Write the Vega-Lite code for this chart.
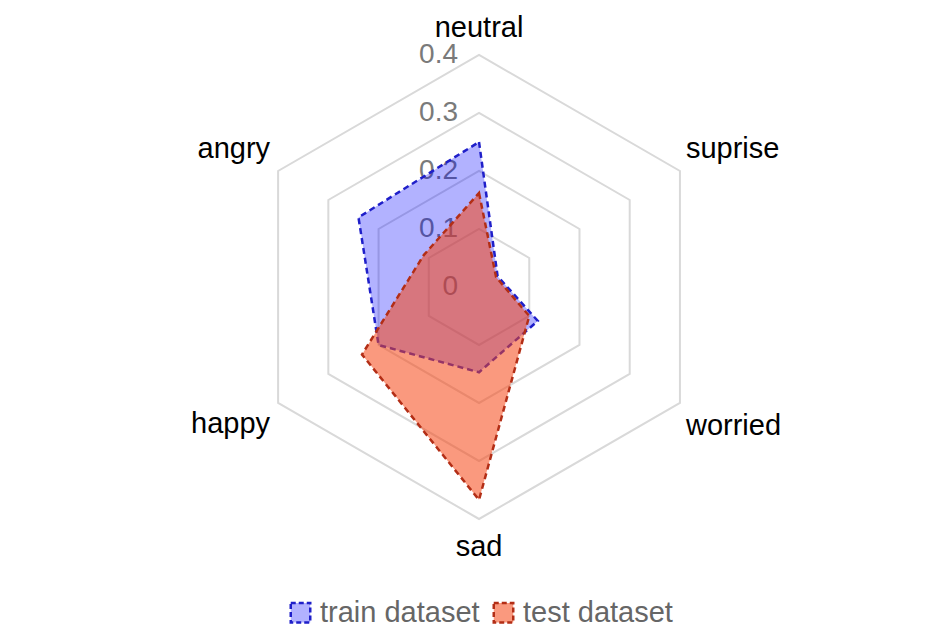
{
  "$schema": "https://vega.github.io/schema/vega-lite/v6.json",
  "width": 945,
  "height": 634,
  "autosize": "none",
  "padding": 0,
  "background": "white",
  "config": {"view": {"stroke": null}, "font": "Liberation Sans"},
  "datasets": {
    "axes": [
      {"emotion": "neutral", "idx": 0},
      {"emotion": "suprise", "idx": 1},
      {"emotion": "worried", "idx": 2},
      {"emotion": "sad", "idx": 3},
      {"emotion": "happy", "idx": 4},
      {"emotion": "angry", "idx": 5}
    ],
    "grid": [
      {"emotion": "neutral", "levels": [0.1, 0.2, 0.3, 0.4]},
      {"emotion": "suprise", "levels": [0.1, 0.2, 0.3, 0.4]},
      {"emotion": "worried", "levels": [0.1, 0.2, 0.3, 0.4]},
      {"emotion": "sad", "levels": [0.1, 0.2, 0.3, 0.4]},
      {"emotion": "happy", "levels": [0.1, 0.2, 0.3, 0.4]},
      {"emotion": "angry", "levels": [0.1, 0.2, 0.3, 0.4]}
    ],
    "ticks": [
      {"tick": "0", "value": 0},
      {"tick": "0.1", "value": 0.1},
      {"tick": "0.2", "value": 0.2},
      {"tick": "0.3", "value": 0.3},
      {"tick": "0.4", "value": 0.4}
    ],
    "scores": [
      {"dataset": "train dataset", "emotion": "neutral", "value": 0.25},
      {"dataset": "train dataset", "emotion": "suprise", "value": 0.037},
      {"dataset": "train dataset", "emotion": "worried", "value": 0.117},
      {"dataset": "train dataset", "emotion": "sad", "value": 0.147},
      {"dataset": "train dataset", "emotion": "happy", "value": 0.2},
      {"dataset": "train dataset", "emotion": "angry", "value": 0.24},
      {"dataset": "test dataset", "emotion": "neutral", "value": 0.162},
      {"dataset": "test dataset", "emotion": "suprise", "value": 0.034},
      {"dataset": "test dataset", "emotion": "worried", "value": 0.1},
      {"dataset": "test dataset", "emotion": "sad", "value": 0.367},
      {"dataset": "test dataset", "emotion": "happy", "value": 0.233},
      {"dataset": "test dataset", "emotion": "angry", "value": 0.11}
    ]
  },
  "encoding": {
    "x": {"field": "x", "type": "quantitative", "scale": {"domain": [-0.8259, 0.8034], "nice": false, "zero": false}, "axis": null},
    "y": {"field": "y", "type": "quantitative", "scale": {"domain": [-0.5983, 0.4948], "nice": false, "zero": false}, "axis": null}
  },
  "layer": [
    {
      "data": {"name": "grid"},
      "transform": [
        {"flatten": ["levels"], "as": ["value"]},
        {"lookup": "emotion", "from": {"data": {"name": "axes"}, "key": "emotion", "fields": ["idx"]}},
        {"calculate": "datum.idx * PI / 3", "as": "a"},
        {"calculate": "datum.value * sin(datum.a)", "as": "x"},
        {"calculate": "datum.value * cos(datum.a)", "as": "y"}
      ],
      "mark": {"type": "line", "interpolate": "linear-closed", "stroke": "#d9d9d9", "strokeWidth": 2},
      "encoding": {
        "detail": {"field": "value", "type": "nominal"},
        "order": {"field": "idx", "type": "quantitative"}
      }
    },
    {
      "data": {"name": "ticks"},
      "transform": [
        {"calculate": "0", "as": "x"},
        {"calculate": "datum.value", "as": "y"}
      ],
      "mark": {"type": "text", "align": "right", "baseline": "middle", "dx": -21, "fontSize": 28, "fill": "#7a7a7a"},
      "encoding": {
        "text": {"field": "tick", "type": "nominal"}
      }
    },
    {
      "data": {"name": "scores"},
      "transform": [
        {"lookup": "emotion", "from": {"data": {"name": "axes"}, "key": "emotion", "fields": ["idx"]}},
        {"calculate": "datum.idx * PI / 3", "as": "a"},
        {"calculate": "datum.value * sin(datum.a)", "as": "x"},
        {"calculate": "datum.value * cos(datum.a)", "as": "y"}
      ],
      "mark": {"type": "line", "interpolate": "linear-closed", "strokeWidth": 2.5, "strokeDash": [6, 4]},
      "encoding": {
        "detail": {"field": "dataset", "type": "nominal"},
        "order": {"field": "idx", "type": "quantitative"},
        "stroke": {"field": "dataset", "type": "nominal", "scale": {"domain": ["train dataset", "test dataset"], "range": ["#1f1fc9", "#b32e16"]}, "legend": {"orient": "none", "legendX": 286, "legendY": 598, "direction": "horizontal", "title": null, "symbolType": "square", "symbolSize": 380, "symbolStrokeWidth": 2.5, "symbolDash": [5, 3], "labelFontSize": 29, "labelColor": "#666666", "labelOffset": 5, "columnPadding": 8}},
        "fill": {"field": "dataset", "type": "nominal", "scale": {"domain": ["train dataset", "test dataset"], "range": ["rgba(0,0,255,0.3)", "rgba(245,70,20,0.55)"]}, "legend": {"orient": "none", "legendX": 286, "legendY": 598, "direction": "horizontal", "title": null, "symbolType": "square", "symbolSize": 380, "symbolStrokeWidth": 2.5, "symbolDash": [5, 3], "labelFontSize": 29, "labelColor": "#666666", "labelOffset": 5, "columnPadding": 8}}
      }
    },
    {
      "data": {"name": "axes"},
      "transform": [
        {"filter": "datum.emotion === 'neutral'"},
        {"calculate": "datum.idx * PI / 3", "as": "a"},
        {"calculate": "0.4 * sin(datum.a)", "as": "x"},
        {"calculate": "0.4 * cos(datum.a)", "as": "y"}
      ],
      "mark": {"type": "text", "align": "center", "baseline": "alphabetic", "dy": -18, "fontSize": 29, "fill": "#000000"},
      "encoding": {"text": {"field": "emotion", "type": "nominal"}}
    },
    {
      "data": {"name": "axes"},
      "transform": [
        {"filter": "datum.emotion === 'sad'"},
        {"calculate": "datum.idx * PI / 3", "as": "a"},
        {"calculate": "0.4 * sin(datum.a)", "as": "x"},
        {"calculate": "0.4 * cos(datum.a)", "as": "y"}
      ],
      "mark": {"type": "text", "align": "center", "baseline": "alphabetic", "dy": 37, "fontSize": 29, "fill": "#000000"},
      "encoding": {"text": {"field": "emotion", "type": "nominal"}}
    },
    {
      "data": {"name": "axes"},
      "transform": [
        {"filter": "datum.emotion === 'suprise'"},
        {"calculate": "datum.idx * PI / 3", "as": "a"},
        {"calculate": "0.4 * sin(datum.a)", "as": "x"},
        {"calculate": "0.4 * cos(datum.a)", "as": "y"}
      ],
      "mark": {"type": "text", "align": "left", "baseline": "alphabetic", "dx": 6, "dy": -13, "fontSize": 29, "fill": "#000000"},
      "encoding": {"text": {"field": "emotion", "type": "nominal"}}
    },
    {
      "data": {"name": "axes"},
      "transform": [
        {"filter": "datum.emotion === 'worried'"},
        {"calculate": "datum.idx * PI / 3", "as": "a"},
        {"calculate": "0.4 * sin(datum.a)", "as": "x"},
        {"calculate": "0.4 * cos(datum.a)", "as": "y"}
      ],
      "mark": {"type": "text", "align": "left", "baseline": "alphabetic", "dx": 6, "dy": 32, "fontSize": 29, "fill": "#000000"},
      "encoding": {"text": {"field": "emotion", "type": "nominal"}}
    },
    {
      "data": {"name": "axes"},
      "transform": [
        {"filter": "datum.emotion === 'angry'"},
        {"calculate": "datum.idx * PI / 3", "as": "a"},
        {"calculate": "0.4 * sin(datum.a)", "as": "x"},
        {"calculate": "0.4 * cos(datum.a)", "as": "y"}
      ],
      "mark": {"type": "text", "align": "right", "baseline": "alphabetic", "dx": -8, "dy": -13, "fontSize": 29, "fill": "#000000"},
      "encoding": {"text": {"field": "emotion", "type": "nominal"}}
    },
    {
      "data": {"name": "axes"},
      "transform": [
        {"filter": "datum.emotion === 'happy'"},
        {"calculate": "datum.idx * PI / 3", "as": "a"},
        {"calculate": "0.4 * sin(datum.a)", "as": "x"},
        {"calculate": "0.4 * cos(datum.a)", "as": "y"}
      ],
      "mark": {"type": "text", "align": "right", "baseline": "alphabetic", "dx": -8, "dy": 30, "fontSize": 29, "fill": "#000000"},
      "encoding": {"text": {"field": "emotion", "type": "nominal"}}
    }
  ]
}
